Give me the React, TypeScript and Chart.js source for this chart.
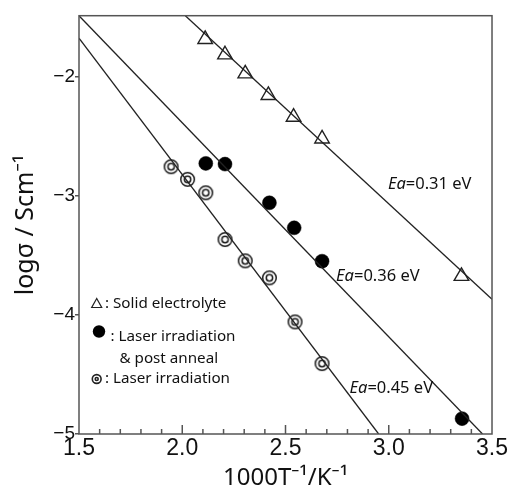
import React, { useEffect, useRef } from "react";
import { Chart, registerables } from "chart.js";

Chart.register(...registerables);

// ---- axis ticks ----
const xTicks = [1.5, 2.0, 2.5, 3.0, 3.5];
const xTickLabels = ["1.5", "2.0", "2.5", "3.0", "3.5"];
const yTicks = [-5, -4, -3, -2];
const yTickLabels = ["−5", "−4", "−3", "−2"];
const xMin = 1.5;
const xMax = 3.5;
const yMin = -5;
const yMax = -1.488;

// ---- series: Solid electrolyte (triangles) ----
const solidX = [2.111, 2.207, 2.305, 2.417, 2.539, 2.677, 3.352];
const solidY = [-1.686, -1.815, -1.975, -2.156, -2.339, -2.521, -3.675];

// ---- series: Laser irradiation & post anneal (filled circles) ----
const annealX = [2.114, 2.207, 2.422, 2.542, 2.677, 3.355];
const annealY = [-2.728, -2.734, -3.059, -3.269, -3.549, -4.871];

// ---- series: Laser irradiation (double circles) ----
const laserX = [1.946, 2.026, 2.114, 2.207, 2.305, 2.422, 2.546, 2.677];
const laserY = [-2.756, -2.862, -2.975, -3.367, -3.546, -3.689, -4.059, -4.409];

// ---- fitted Arrhenius lines (end points) ----
const fit031X = [2.015, 3.5];
const fit031Y = [-1.488, -3.868];
const fit036X = [1.5, 3.454];
const fit036Y = [-1.488, -5.0];
const fit045X = [1.5, 2.951];
const fit045Y = [-1.677, -5.0];

// ---- annotations ----
const eaValues = ["=0.31 eV", "=0.36 eV", "=0.45 eV"];
const eaX = [2.996, 2.745, 2.81];
const eaY = [-2.905, -3.672, -4.62];
const legendLabels = [": Solid electrolyte", ": Laser irradiation", "& post anneal", ": Laser irradiation"];

const xTitle = "1000T⁻¹/K⁻¹";
const yTitle = "logσ / Scm⁻¹";

const pts = (xs: number[], ys: number[]) => xs.map((x, i) => ({ x, y: ys[i] }));

function makeDoubleCircle(ro: number, ri: number, lw: number) {
  const size = Math.ceil(ro * 2 + lw * 2 + 2);
  const c = document.createElement("canvas");
  c.width = size;
  c.height = size;
  const g = c.getContext("2d")!;
  g.strokeStyle = "#1a1a1a";
  g.lineWidth = lw;
  g.beginPath();
  g.arc(size / 2, size / 2, ro, 0, Math.PI * 2);
  g.stroke();
  g.beginPath();
  g.arc(size / 2, size / 2, ri, 0, Math.PI * 2);
  g.stroke();
  return c;
}

export default function App() {
  const ref = useRef<HTMLCanvasElement | null>(null);

  useEffect(() => {
    const canvas = ref.current;
    if (!canvas) return;
    const dbl = makeDoubleCircle(6.8, 3.2, 1.5);

    const lineDs = (xs: number[], ys: number[], label: string) => ({
      type: "line" as const,
      label,
      data: pts(xs, ys),
      borderColor: "#222",
      borderWidth: 1.3,
      pointRadius: 0,
      fill: false,
      tension: 0,
    });

    const decor = {
      id: "decor",
      afterDraw(chart: any) {
        const { ctx, chartArea: a, scales } = chart;
        const xs = scales.x;
        const ys = scales.y;
        ctx.save();
        // frame
        ctx.strokeStyle = "#555";
        ctx.lineWidth = 1.5;
        ctx.strokeRect(a.left, a.top, a.right - a.left, a.bottom - a.top);
        // inward x ticks (minor 0.1, major 0.5)
        for (let i = 1; i < 20; i++) {
          const v = xMin + i * 0.1;
          const px = xs.getPixelForValue(v);
          const major = i % 5 === 0;
          ctx.beginPath();
          ctx.moveTo(px, a.bottom);
          ctx.lineTo(px, a.bottom - (major ? 9 : 5));
          ctx.stroke();
        }
        // Ea labels
        ctx.fillStyle = "#111";
        ctx.textBaseline = "middle";
        ctx.textAlign = "left";
        eaValues.forEach((t, i) => {
          const px = xs.getPixelForValue(eaX[i]);
          const py = ys.getPixelForValue(eaY[i]);
          ctx.font = "italic 16.5px 'Noto Sans'";
          ctx.fillText("Ea", px, py);
          const w = ctx.measureText("Ea").width;
          ctx.font = "16.5px 'Noto Sans'";
          ctx.fillText(t, px + w, py);
        });
        // legend
        const L = a.left;
        ctx.font = "15.2px 'Noto Sans'";
        ctx.strokeStyle = "#222";
        ctx.lineWidth = 1.2;
        // triangle
        let cx = L + 17.7, cy = 303.5;
        ctx.beginPath();
        ctx.moveTo(cx, cy - 5);
        ctx.lineTo(cx - 5, cy + 4);
        ctx.lineTo(cx + 5, cy + 4);
        ctx.closePath();
        ctx.stroke();
        ctx.fillText(legendLabels[0], L + 26, 304);
        // filled circle
        ctx.fillStyle = "#000";
        ctx.beginPath();
        ctx.arc(L + 20, 331.5, 6.2, 0, Math.PI * 2);
        ctx.fill();
        ctx.fillStyle = "#111";
        ctx.fillText(legendLabels[1], L + 31.5, 337);
        ctx.fillText(legendLabels[2], L + 40.5, 359);
        // double circle
        cx = L + 17.7; cy = 379;
        ctx.lineWidth = 1.6;
        ctx.beginPath();
        ctx.arc(cx, cy, 4.4, 0, Math.PI * 2);
        ctx.stroke();
        ctx.beginPath();
        ctx.arc(cx, cy, 1.5, 0, Math.PI * 2);
        ctx.stroke();
        ctx.fillText(legendLabels[3], L + 26, 379);
        ctx.restore();
      },
    };

    const chart = new Chart(canvas, {
      type: "scatter",
      data: {
        datasets: [
          lineDs(fit031X, fit031Y, "Ea=0.31 eV"),
          lineDs(fit036X, fit036Y, "Ea=0.36 eV"),
          lineDs(fit045X, fit045Y, "Ea=0.45 eV"),
          {
            label: "Solid electrolyte",
            data: pts(solidX, solidY),
            pointStyle: "triangle",
            pointRadius: 8.4,
            borderColor: "#222",
            borderWidth: 1.4,
            backgroundColor: "rgba(0,0,0,0)",
          },
          {
            label: "Laser irradiation & post anneal",
            data: pts(annealX, annealY),
            pointStyle: "circle",
            pointRadius: 7,
            borderColor: "#000",
            borderWidth: 0.5,
            backgroundColor: "#000",
          },
          {
            label: "Laser irradiation",
            data: pts(laserX, laserY),
            pointStyle: dbl as any,
            pointRadius: 7,
            borderColor: "#222",
            backgroundColor: "rgba(0,0,0,0)",
          },
        ] as any,
      },
      options: {
        animation: false,
        responsive: false,
        devicePixelRatio: 1,
        layout: { padding: { top: 15.7, right: 12, left: 0, bottom: 0 } },
        plugins: {
          legend: { display: false },
          tooltip: { enabled: false },
        },
        scales: {
          x: {
            type: "linear",
            min: xMin,
            max: xMax,
            afterBuildTicks: (s: any) => {
              s.ticks = xTicks.map((v) => ({ value: v }));
            },
            afterFit: (s: any) => {
              s.height = 53;
            },
            ticks: {
              padding: 1,
              autoSkip: false,
              maxRotation: 0,
              color: "#111",
              font: { family: "'Liberation Sans', Arial", size: 23 },
              callback: (v: any) => {
                const i = xTicks.findIndex((t) => Math.abs(t - Number(v)) < 1e-6);
                return i >= 0 ? xTickLabels[i] : "";
              },
            },
            grid: { display: false, drawTicks: false, drawOnChartArea: false },
            border: { display: false },
            title: {
              display: true,
              text: xTitle,
              color: "#111",
              font: { family: "'Noto Sans'", size: 24 },
              padding: { top: 0, bottom: -6 },
            },
          },
          y: {
            type: "linear",
            min: yMin,
            max: yMax,
            afterBuildTicks: (s: any) => {
              s.ticks = yTicks.map((v) => ({ value: v }));
            },
            afterFit: (s: any) => {
              s.width = 79;
            },
            ticks: {
              padding: 0,
              autoSkip: false,
              color: "#111",
              font: { family: "'Liberation Sans', Arial", size: 19 },
              callback: (v: any) => {
                const i = yTicks.findIndex((t) => Math.abs(t - Number(v)) < 1e-6);
                return i >= 0 ? yTickLabels[i] : "";
              },
            },
            grid: {
              display: true,
              drawOnChartArea: false,
              drawTicks: true,
              tickLength: 4,
              color: "#555",
              lineWidth: 1.5,
            },
            border: { display: false },
            title: {
              display: true,
              text: yTitle,
              color: "#111",
              font: { family: "'Noto Sans'", size: 25 },
              padding: { top: 11, bottom: 0 },
            },
          },
        },
      },
      plugins: [decor],
    } as any);

    return () => chart.destroy();
  }, []);

  return (
    <div style={{ position: "absolute", left: 0, top: 0, width: 509, height: 487, background: "#fff" }}>
      <canvas ref={ref} width={509} height={487} style={{ display: "block", width: 509, height: 487 }} />
    </div>
  );
}
